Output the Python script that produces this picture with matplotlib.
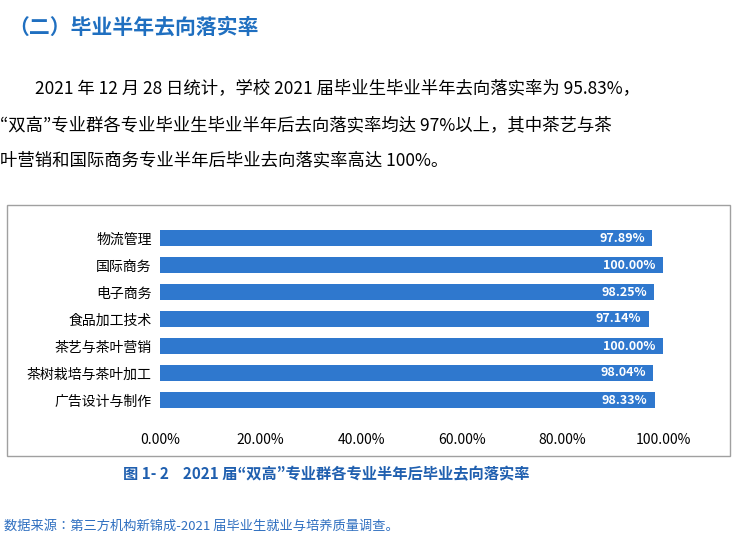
import matplotlib
matplotlib.use("Agg")
import matplotlib.pyplot as plt
from matplotlib.patches import Rectangle
from matplotlib import font_manager as fm

cjk = [f.name for f in fm.fontManager.ttflist if 'CJK' in f.name]
pref = [n for n in ["Noto Sans CJK SC", "Noto Sans CJK JP", "Noto Sans CJK TC", "Noto Sans CJK KR"] if n in cjk] or cjk
fam = (pref[:1] if pref else []) + ['DejaVu Sans']
plt.rcParams['font.family'] = fam

categories = ["物流管理", "国际商务", "电子商务", "食品加工技术", "茶艺与茶叶营销", "茶树栽培与茶叶加工", "广告设计与制作"]
values = [97.89, 100.00, 98.25, 97.14, 100.00, 98.04, 98.33]
xticks = [0, 20, 40, 60, 80, 100]

W, H = 752, 553
fig = plt.figure(figsize=(W/100, H/100), dpi=100)
fig.patch.set_facecolor('white')

def fy(py): return 1 - py / H
def fx(px): return px / W

blue = '#1F5FAF'
fig.text(fx(8), fy(27), "（二）毕业半年去向落实率", color='#1F6FC0', fontsize=15, fontweight='bold', va='center')
lines = [
    (35, 88, "2021 年 12 月 28 日统计，学校 2021 届毕业生毕业半年去向落实率为 95.83%，"),
    (0, 125, "“双高”专业群各专业毕业生毕业半年后去向落实率均达 97%以上，其中茶艺与茶"),
    (0, 160, "叶营销和国际商务专业半年后毕业去向落实率高达 100%。"),
]
for px, py, t in lines:
    fig.text(fx(px), fy(py), t, fontsize=12.5, va='center', color='black')

fig.patches.append(Rectangle((fx(7), fy(456)), fx(723), 251/H, transform=fig.transFigure,
                             fill=False, edgecolor='#A0A0A0', lw=1))

ax = fig.add_axes([fx(160), fy(413.5), fx(663) - fx(160), (413.5 - 224.5) / H])
y = list(range(len(categories)))
ax.barh(y, values, height=0.62, color='#2F78CE')
ax.set_ylim(len(categories) - 0.5, -0.5)
ax.set_xlim(0, 100)
ax.set_yticks(y)
ax.set_yticklabels(categories, fontsize=10)
ax.set_xticks(xticks)
ax.set_xticklabels([f"{v:.2f}%" for v in xticks], fontsize=10)
ax.tick_params(length=0, pad=6)
ax.tick_params(axis='x', pad=14)
for s in ax.spines.values():
    s.set_visible(False)
for yi, v in zip(y, values):
    ax.text(v - 1.5, yi, f"{v:.2f}%", color='white', fontsize=9, fontweight='bold', ha='right', va='center')

fig.text(fx(123), fy(474), "图 1- 2    2021 届“双高”专业群各专业半年后毕业去向落实率", color=blue, fontsize=11, fontweight='bold', va='center')
fig.text(fx(4), fy(526), "数据来源：第三方机构新锦成-2021 届毕业生就业与培养质量调查。", color='#2F6FC0', fontsize=9.5, va='center')

fig.savefig("out.png", dpi=100)
